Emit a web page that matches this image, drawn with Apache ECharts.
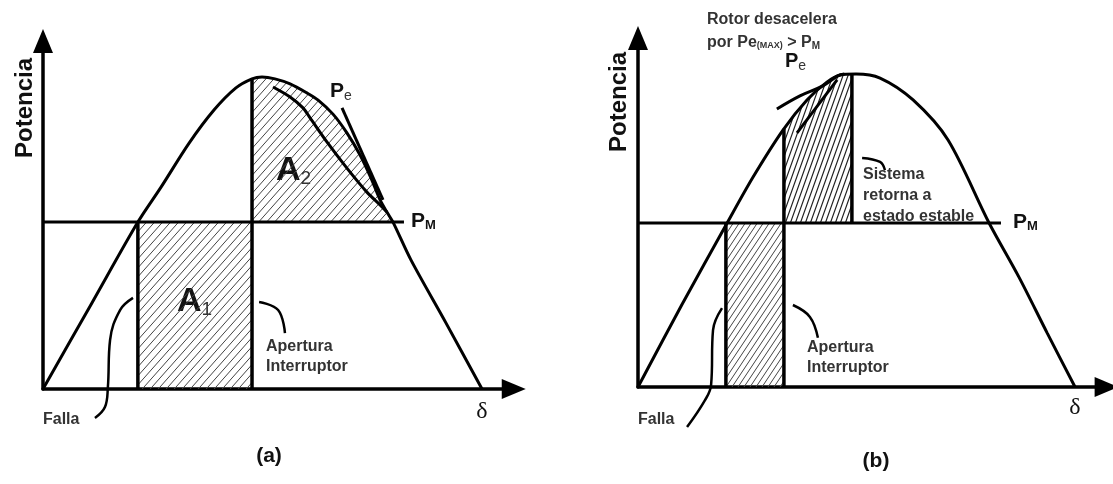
<!DOCTYPE html>
<html>
<head>
<meta charset="utf-8">
<script src="https://cdn.jsdelivr.net/npm/echarts@6/dist/echarts.min.js"></script>
<style>
  html, body { margin: 0; padding: 0; background: #fff; }
  #chart { width: 1113px; height: 484px; }
</style>
</head>
<body>
<div id="chart"></div>
<script>
'use strict';

// ---- panel (a): delta in degrees, power in p.u. of Pe(max)
const curveA = [[0, 0], [20, 0.275], [38.9, 0.535], [48.4, 0.647], [59.9, 0.788], [70.1, 0.894],
  [79.1, 0.965], [85.7, 0.994], [89.8, 1.0], [95.1, 0.994], [101.3, 0.978], [108.2, 0.949],
  [112.8, 0.926], [118.9, 0.881], [124.6, 0.821], [130, 0.75], [134.5, 0.676], [138.2, 0.606],
  [141, 0.567], [143.5, 0.535], [150.9, 0.413], [165.2, 0.212], [180, 0]];
const pmA = 0.535;
const pmEndA = 148;
const faultA = 38.9;
const clearA = 85.7;
const crossA = 143.5;
const innerA = [[94.3, 0.968], [101.3, 0.936], [106.6, 0.901], [109.5, 0.869], [116.4, 0.792],
  [124.6, 0.708], [132.8, 0.631], [138.2, 0.59], [141, 0.567]];
const tangentA = [[122.6, 0.901], [139.4, 0.606]];
const leaderClearA = [[88.6, 0.279], [96.4, 0.253], [99.2, 0.179]];
const leaderFaultA = [[36.9, 0.292], [31.6, 0.253], [27.5, 0.157], [26.6, 0.006], [25.4, -0.058], [21.3, -0.093]];

// ---- panel (b)
const curveB = [[0, 0], [18, 0.262], [36.7, 0.524], [47.4, 0.671], [59.7, 0.821], [69.6, 0.917],
  [77.8, 0.974], [83.2, 0.997], [89.8, 1.0], [99.7, 0.987], [113.3, 0.917], [127.7, 0.789],
  [144.6, 0.524], [156.9, 0.351], [168.5, 0.173], [180, 0]];
const pmB = 0.524;
const pmEndB = 149.5;
const faultB = 36.2;
const clearB = 60.1;
const stopB = 88.1;
const swoopB = [[57.2, 0.888], [66.7, 0.93], [76.1, 0.962], [82.3, 0.994], [85, 1.0]];
const arrowB = [[65.5, 0.812], [82, 0.981]];
const leaderClearB = [[63.8, 0.262], [70.8, 0.224], [74.1, 0.157]];
const leaderFaultB = [[34.6, 0.252], [30.9, 0.182], [30.1, 0.006], [27.6, -0.042], [20.2, -0.128]];
const leaderStopB = [[92.3, 0.732], [99.7, 0.719], [101.7, 0.693]];

const SANS = '"Liberation Sans", Arial, sans-serif';
const SERIF = '"Liberation Serif", "DejaVu Serif", serif';
const INK = '#111';
const GREY = '#333';

const chart = echarts.init(document.getElementById('chart'));

function hatch(w, h, width, colour) {
  const c = document.createElement('canvas');
  c.width = w;
  c.height = h;
  const ctx = c.getContext('2d');
  ctx.strokeStyle = colour;
  ctx.lineWidth = width;
  ctx.beginPath();
  for (const dx of [-w, 0, w]) {
    ctx.moveTo(dx - w, 2 * h);
    ctx.lineTo(dx + 2 * w, -h);
  }
  ctx.stroke();
  return c;
}

function valueAt(curve, x) {
  for (let i = 1; i < curve.length; i++) {
    const [x0, y0] = curve[i - 1];
    const [x1, y1] = curve[i];
    if (x <= x1) return y0 + (y1 - y0) * (x - x0) / (x1 - x0);
  }
  return curve[curve.length - 1][1];
}

function underCurve(curve, from, to, level) {
  const pts = [[from, level], [from, valueAt(curve, from)]];
  curve.forEach(p => { if (p[0] > from && p[0] < to) pts.push(p); });
  pts.push([to, valueAt(curve, to)], [to, level]);
  return pts;
}

const regionsA = [
  { pts: [[faultA, 0], [faultA, pmA], [clearA, pmA], [clearA, 0]], img: hatch(8, 9, 1, '#444') },
  { pts: underCurve(curveA, clearA, crossA, pmA), img: hatch(8, 9, 1, '#444') }
];
const regionsB = [
  { pts: [[faultB, 0], [faultB, pmB], [clearB, pmB], [clearB, 0]], img: hatch(6, 9, 1, '#444') },
  { pts: underCurve(curveB, clearB, stopB, pmB), img: hatch(5, 14, 1.2, '#222') }
];

function hatchSeries(regions, idx) {
  return {
    type: 'custom',
    xAxisIndex: idx,
    yAxisIndex: idx,
    silent: true,
    z: 1,
    data: regions.map((r, i) => i),
    renderItem: (params, api) => {
      const r = regions[params.dataIndex];
      return {
        type: 'polygon',
        shape: { points: r.pts.map(p => api.coord(p)) },
        style: { fill: { image: r.img, repeat: 'repeat' }, stroke: null }
      };
    }
  };
}

function stroke(data, idx, width, smooth) {
  return {
    type: 'line',
    xAxisIndex: idx,
    yAxisIndex: idx,
    data: data,
    showSymbol: false,
    smooth: smooth || false,
    clip: false,
    silent: true,
    z: 3,
    lineStyle: { color: '#000', width: width }
  };
}

function axisX(idx) {
  return {
    gridIndex: idx, type: 'value', min: 0, max: 193,
    axisLine: { show: true, onZero: false, symbol: ['none', 'triangle'], symbolSize: [20, 24],
      lineStyle: { color: '#000', width: 3.5 } },
    axisTick: { show: false }, axisLabel: { show: false }, splitLine: { show: false }
  };
}
function axisY(idx) {
  return {
    gridIndex: idx, type: 'value', min: 0, max: 1.115,
    axisLine: { show: true, onZero: false, symbol: ['none', 'triangle'], symbolSize: [20, 24],
      lineStyle: { color: '#000', width: 3.5 } },
    axisTick: { show: false }, axisLabel: { show: false }, splitLine: { show: false }
  };
}

const measure = document.createElement('canvas').getContext('2d');
function textWidth(t, font) {
  measure.font = font;
  return measure.measureText(t).width;
}

// label made of runs: [text, size, weight, dy, colour]
function runs(x, y, parts) {
  const out = [];
  for (const [t, size, weight, dy, fill] of parts) {
    const font = `${weight} ${size}px ${SANS}`;
    out.push({ type: 'text', x: x, y: y + (dy || 0), silent: true,
      style: { text: t, font: font, fill: fill || INK, align: 'left', verticalAlign: 'middle' } });
    x += textWidth(t, font);
  }
  return out;
}
function note(x, y, lines, gap) {
  return lines.map((t, i) => ({ type: 'text', x: x, y: y + i * gap, silent: true,
    style: { text: t, font: `bold 16px ${SANS}`, fill: GREY, align: 'left', verticalAlign: 'middle' } }));
}
function centred(x, y, t, font, rotation) {
  return { type: 'text', x: x, y: y, rotation: rotation || 0, silent: true,
    style: { text: t, font: font, fill: INK, align: 'center', verticalAlign: 'middle' } };
}

const labels = [].concat(
  centred(25, 108, 'Potencia', `bold 24px ${SANS}`, Math.PI / 2),
  runs(330, 91, [['P', 21, 'bold'], ['e', 14, 'normal', 5, GREY]]),
  runs(411, 221, [['P', 21, 'bold'], ['M', 13, 'bold', 4]]),
  runs(276, 171, [['A', 34, 'bold'], ['2', 19, 'normal', 8, GREY]]),
  runs(177, 302, [['A', 34, 'bold'], ['1', 19, 'normal', 8, GREY]]),
  note(266, 347, ['Apertura', 'Interruptor'], 20),
  note(43, 420, ['Falla'], 0),
  centred(482, 412, 'δ', `24px ${SERIF}`),
  centred(269, 456, '(a)', `bold 21px ${SANS}`),

  centred(619, 102, 'Potencia', `bold 24px ${SANS}`, Math.PI / 2),
  note(707, 20, ['Rotor desacelera'], 0),
  runs(707, 43, [['por Pe', 16, 'bold', 0, GREY], ['(MAX)', 9, 'bold', 3, GREY],
    [' > P', 16, 'bold', 0, GREY], ['M', 10, 'bold', 3, GREY]]),
  runs(785, 61, [['P', 20, 'bold'], ['e', 14, 'normal', 5, GREY]]),
  note(863, 175, ['Sistema', 'retorna a', 'estado estable'], 21),
  runs(1013, 222, [['P', 21, 'bold'], ['M', 13, 'bold', 4]]),
  note(807, 348, ['Apertura', 'Interruptor'], 20),
  note(638, 420, ['Falla'], 0),
  centred(1075, 408, 'δ', `24px ${SERIF}`),
  centred(876, 461, '(b)', `bold 21px ${SANS}`)
);

const option = {
  backgroundColor: '#fff',
  animation: false,
  grid: [
    { left: 43, top: 389 - 1.115 * 312, width: 193 * 2.439, height: 1.115 * 312 },
    { left: 638, top: 387 - 1.115 * 313, width: 193 * 2.428, height: 1.115 * 313 }
  ],
  xAxis: [axisX(0), axisX(1)],
  yAxis: [axisY(0), axisY(1)],
  graphic: labels,
  series: [
    hatchSeries(regionsA, 0),
    stroke(curveA, 0, 3, 0.3),
    stroke([[0, pmA], [pmEndA, pmA]], 0, 3),
    stroke([[faultA, 0], [faultA, pmA]], 0, 3.5),
    stroke([[clearA, 0], [clearA, valueAt(curveA, clearA)]], 0, 3.5),
    stroke(innerA, 0, 3, 0.3),
    stroke(tangentA, 0, 3),
    stroke(leaderClearA, 0, 2.5, 0.4),
    stroke(leaderFaultA, 0, 2.5, 0.4),

    hatchSeries(regionsB, 1),
    stroke(curveB, 1, 3, 0.3),
    stroke([[0, pmB], [pmEndB, pmB]], 1, 3),
    stroke([[faultB, 0], [faultB, pmB]], 1, 3.5),
    stroke([[clearB, 0], [clearB, valueAt(curveB, clearB)]], 1, 3.5),
    stroke([[stopB, pmB], [stopB, valueAt(curveB, stopB)]], 1, 3.5),
    stroke(swoopB, 1, 3, 0.4),
    stroke(arrowB, 1, 3),
    stroke(leaderClearB, 1, 2.5, 0.4),
    stroke(leaderFaultB, 1, 2.5, 0.4),
    stroke(leaderStopB, 1, 2.5, 0.4)
  ]
};

chart.setOption(option);
</script>
</body>
</html>
